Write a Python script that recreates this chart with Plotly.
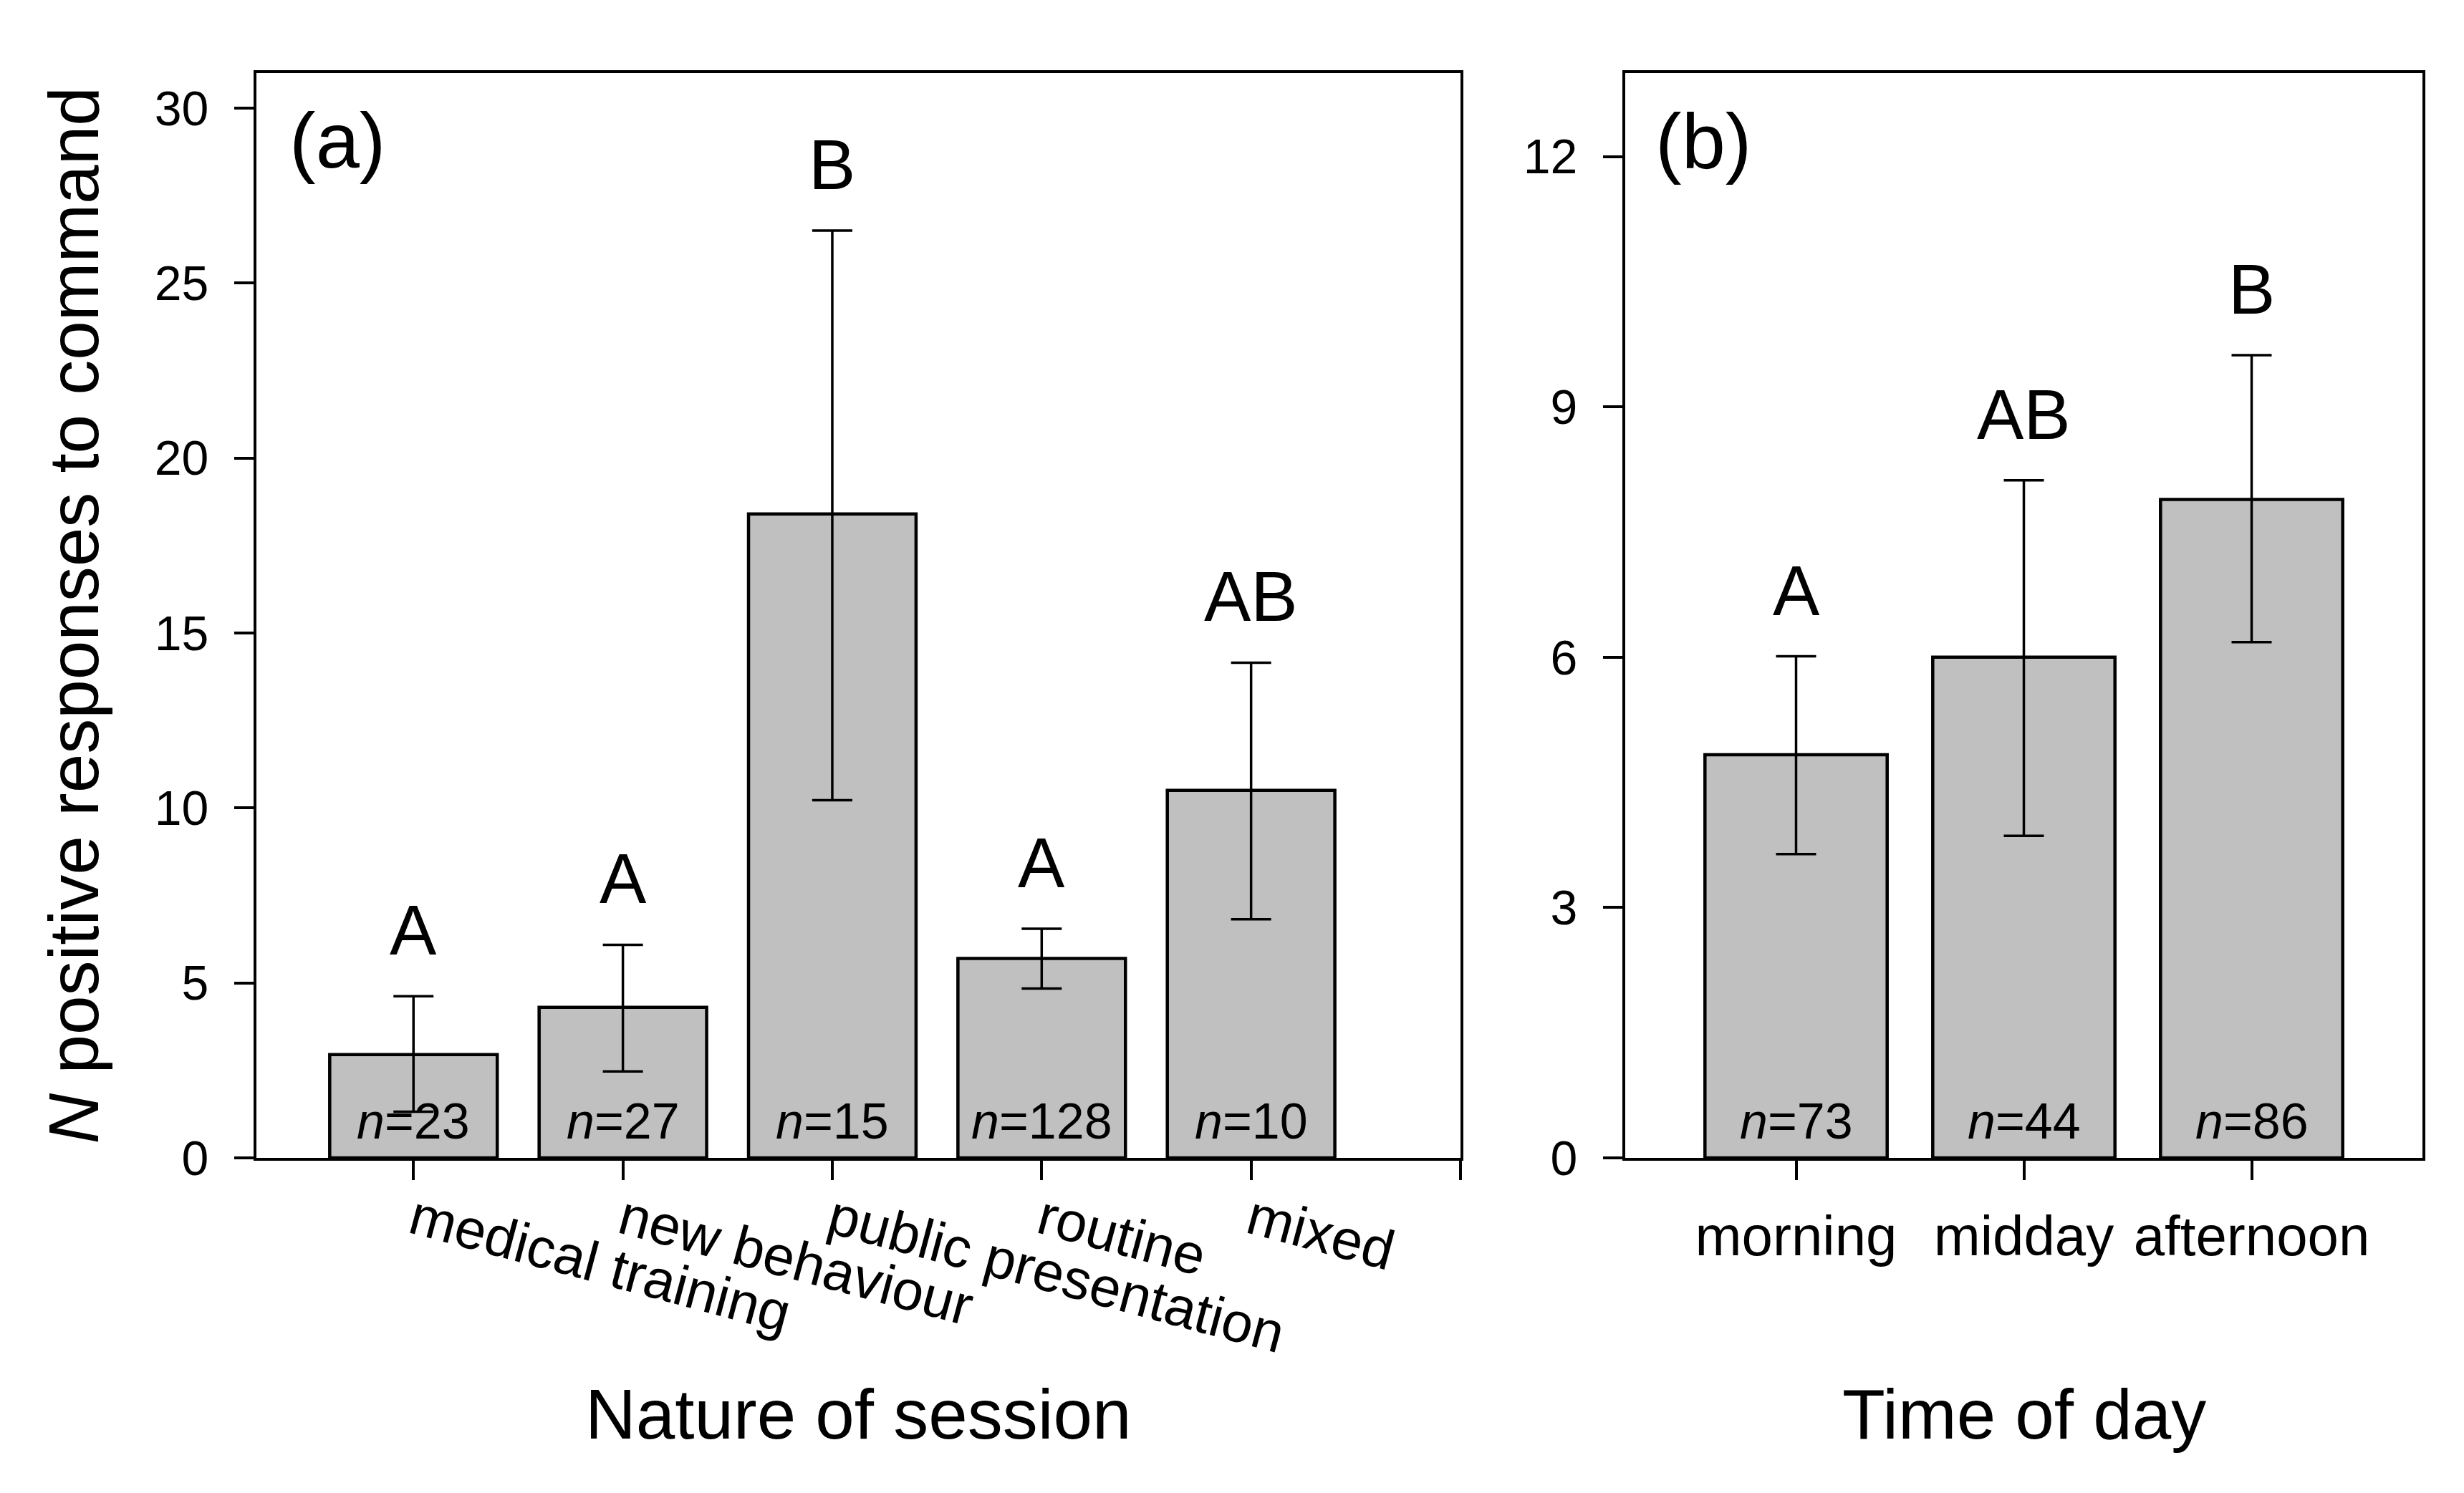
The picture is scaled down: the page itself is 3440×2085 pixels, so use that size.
import plotly.graph_objects as go

# ---------------- data ----------------
session_types = ["medical training", "new behaviour", "public presentation", "routine", "mixed"]
session_mean = [2.95, 4.3, 18.4, 5.7, 10.5]
session_upper = [4.62, 6.09, 26.5, 6.55, 14.15]
session_lower = [1.32, 2.47, 10.22, 4.84, 6.82]
session_n = [23, 27, 15, 128, 10]
session_letters = ["A", "A", "B", "A", "AB"]

time_of_day = ["morning", "midday", "afternoon"]
time_mean = [4.83, 6.0, 7.89]
time_upper = [6.01, 8.12, 9.62]
time_lower = [3.64, 3.86, 6.18]
time_n = [73, 44, 86]
time_letters = ["A", "AB", "B"]

y_ticks_a = [0, 5, 10, 15, 20, 25, 30]
y_ticks_b = [0, 3, 6, 9, 12]

# ---------------- styling ----------------
FONT = "Liberation Sans, Arial, Helvetica, sans-serif"
BAR_FILL = "#c0c0c0"
TICK_FS = 68
CAT_FS = 78
TITLE_FS = 98
LETTER_FS = 98
N_FS = 70
PANEL_FS = 110

W, H = 3440, 2085
ML, MR, MT, MB = 358, 58, 102, 468
plot_w = W - ML - MR
dom_a = [0.0, 1681 / plot_w]
dom_b = [1911 / plot_w, 1.0]

xa = list(range(len(session_types)))
xb = list(range(len(time_of_day)))

fig = go.Figure()

def add_bars(x, mean, upper, lower, xaxis, yaxis):
    fig.add_trace(go.Bar(
        x=x, y=mean, width=0.8,
        marker=dict(color=BAR_FILL, line=dict(color="black", width=4.5)),
        error_y=dict(type="data", symmetric=False,
                     array=[u - m for u, m in zip(upper, mean)],
                     arrayminus=[m - l for m, l in zip(mean, lower)],
                     color="black", thickness=3.5, width=28),
        xaxis=xaxis, yaxis=yaxis, showlegend=False, hoverinfo="skip",
    ))

add_bars(xa, session_mean, session_upper, session_lower, "x", "y")
add_bars(xb, time_mean, time_upper, time_lower, "x2", "y2")

annotations = []
for xs, upper, letters, ns, xr, yr in [
    (xa, session_upper, session_letters, session_n, "x", "y"),
    (xb, time_upper, time_letters, time_n, "x2", "y2"),
]:
    for xi, u, lt, n in zip(xs, upper, letters, ns):
        annotations.append(dict(x=xi, y=u, xref=xr, yref=yr, text=lt, showarrow=False,
                                yanchor="bottom", xanchor="center", yshift=35,
                                font=dict(family=FONT, size=LETTER_FS, color="black")))
        annotations.append(dict(x=xi, y=0, xref=xr, yref=yr, text=f"<i>n</i>={n}",
                                showarrow=False, yanchor="bottom", xanchor="center", yshift=10,
                                font=dict(family=FONT, size=N_FS, color="black")))

# panel labels
annotations.append(dict(x=44 / 1681, y=(1617 - 195) / 1515, xref="x domain", yref="y domain",
                        text="(a)", showarrow=False, xanchor="left", yanchor="middle",
                        font=dict(family=FONT, size=PANEL_FS, color="black")))
annotations.append(dict(x=40 / 1113, y=(1617 - 197) / 1515, xref="x2 domain", yref="y2 domain",
                        text="(b)", showarrow=False, xanchor="left", yanchor="middle",
                        font=dict(family=FONT, size=PANEL_FS, color="black")))

# axis titles
annotations.append(dict(x=(dom_a[0] + dom_a[1]) / 2, y=-358 / 1515, xref="paper", yref="paper",
                        text="Nature of session", showarrow=False, xanchor="center", yanchor="middle",
                        font=dict(family=FONT, size=TITLE_FS, color="black")))
annotations.append(dict(x=(dom_b[0] + dom_b[1]) / 2, y=-358 / 1515, xref="paper", yref="paper",
                        text="Time of day", showarrow=False, xanchor="center", yanchor="middle",
                        font=dict(family=FONT, size=TITLE_FS, color="black")))
annotations.append(dict(x=(102 - 358) / plot_w, y=0.5, xref="paper", yref="paper",
                        text="<i>N</i> positive responses to command", textangle=-90,
                        showarrow=False, xanchor="center", yanchor="middle",
                        font=dict(family=FONT, size=TITLE_FS, color="black")))

axis_common = dict(showline=True, linecolor="black", linewidth=4, mirror=True,
                   ticks="outside", ticklen=27, tickwidth=3.5, tickcolor="black",
                   showgrid=False, zeroline=False, fixedrange=True)

fig.update_layout(
    width=W, height=H, autosize=False,
    margin=dict(l=ML, r=MR, t=MT, b=MB, pad=0),
    paper_bgcolor="white", plot_bgcolor="white",
    font=dict(family=FONT, color="black"),
    bargap=0.2,
    xaxis=dict(domain=dom_a, range=[-0.75, 5.0], tickmode="array",
               tickvals=xa + [len(xa)], ticktext=session_types + [""],
               tickangle=15, tickfont=dict(size=CAT_FS), ticklabelstandoff=-20,
               anchor="y", **axis_common),
    yaxis=dict(domain=[0, 1], range=[0, 31], tickmode="array", tickvals=y_ticks_a,
               tickfont=dict(size=TICK_FS), ticklabelstandoff=22, anchor="x", **axis_common),
    xaxis2=dict(domain=dom_b, range=[-0.75, 2.75], tickmode="array",
                tickvals=xb, ticktext=time_of_day,
                tickfont=dict(size=CAT_FS), ticklabelstandoff=11, anchor="y2", **axis_common),
    yaxis2=dict(domain=[0, 1], range=[0, 13], tickmode="array", tickvals=y_ticks_b,
                tickfont=dict(size=TICK_FS), ticklabelstandoff=22, anchor="x2", **axis_common),
    annotations=annotations,
)

fig.write_html("out.html", config={"displayModeBar": False},
               post_script="document.body.style.margin='0';")
